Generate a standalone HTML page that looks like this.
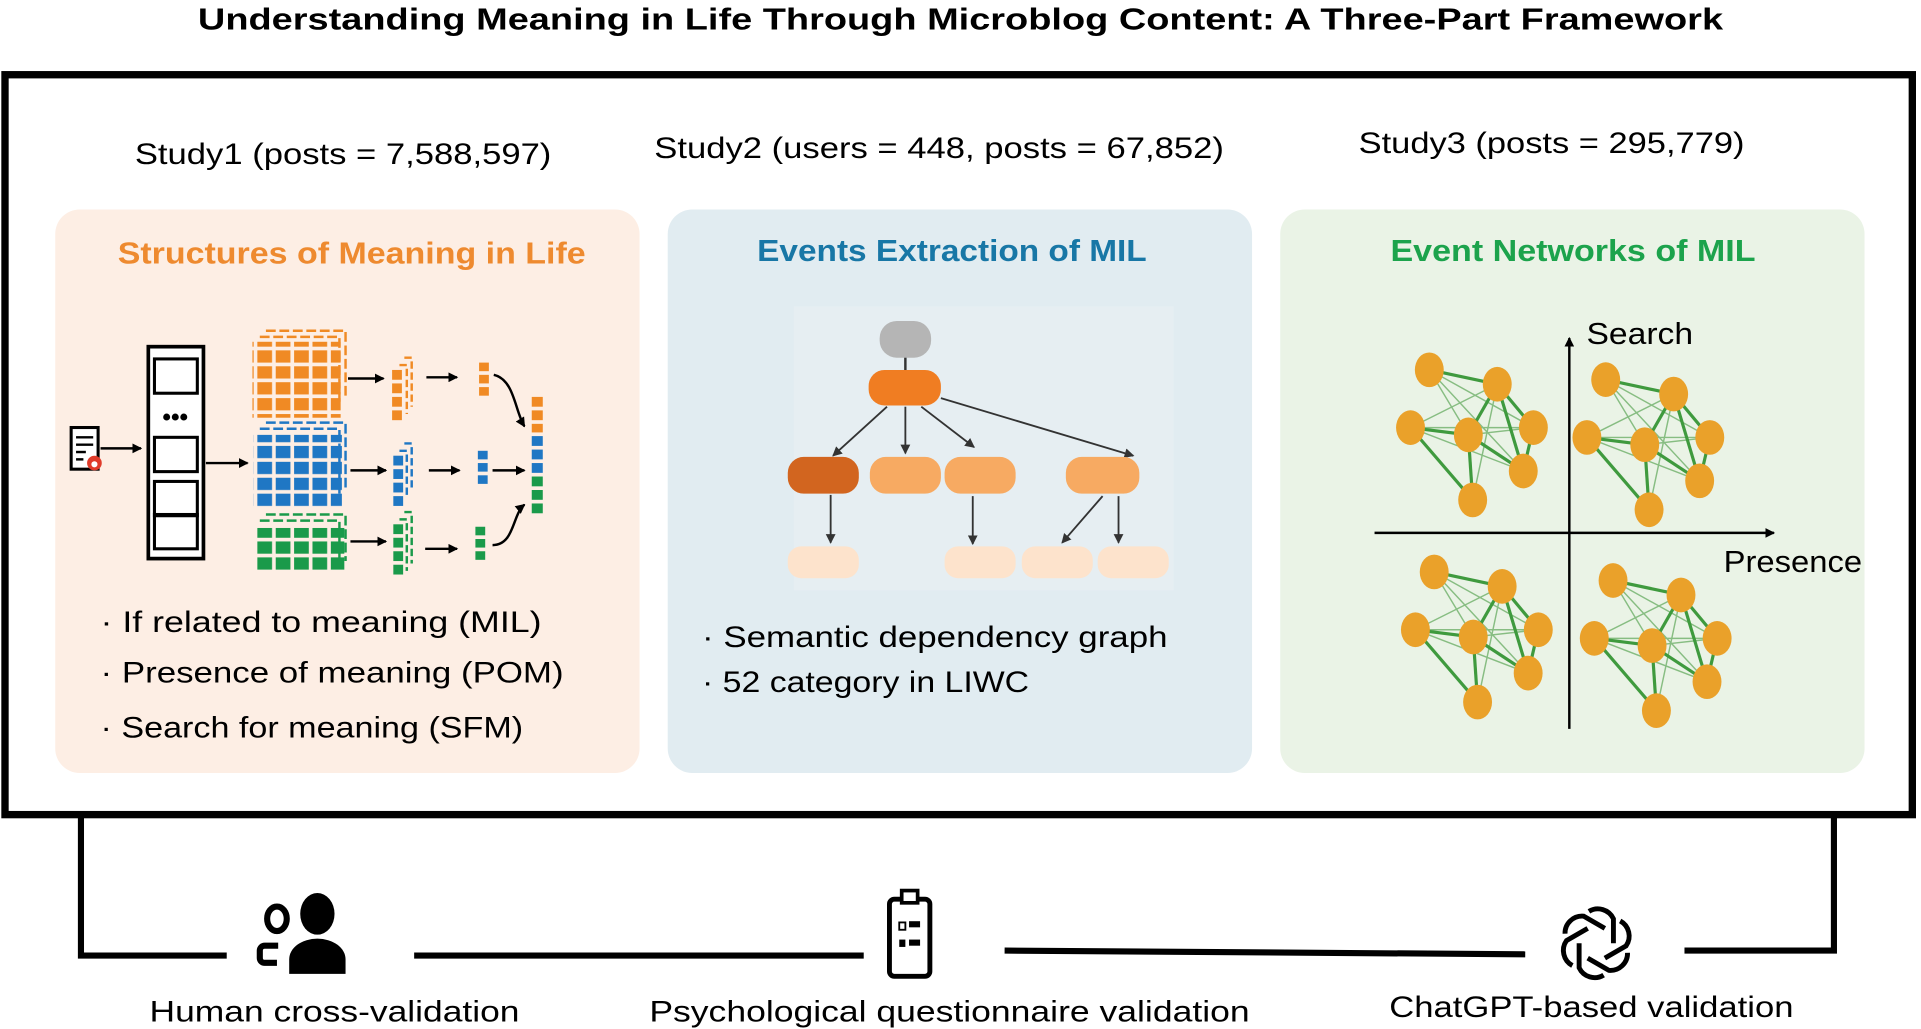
<!DOCTYPE html>
<html><head><meta charset="utf-8"><style>
html,body{margin:0;padding:0;background:#fff;}
svg{display:block;}
text{font-family:"Liberation Sans",sans-serif;}
</style></head><body>
<svg width="1921" height="1029" viewBox="0 0 1568 840" xmlns="http://www.w3.org/2000/svg">
<defs>
<marker id="a" markerWidth="8" markerHeight="8" refX="7" refY="4" orient="auto" markerUnits="userSpaceOnUse"><path d="M0,0 L8,4 L0,8z" fill="#000"/></marker>
<marker id="g" markerWidth="8" markerHeight="8" refX="7" refY="4" orient="auto" markerUnits="userSpaceOnUse"><path d="M0,0 L8,4 L0,8z" fill="#333"/></marker>
<pattern id="og" width="15" height="13" patternUnits="userSpaceOnUse"><rect width="12" height="10" fill="#f08a24"/></pattern>
<pattern id="bg" width="15" height="13" patternUnits="userSpaceOnUse"><rect width="12" height="10" fill="#1f77c4"/></pattern>
<pattern id="gg" width="15" height="13" patternUnits="userSpaceOnUse"><rect width="12" height="10" fill="#1a9a4a"/></pattern>
<g id="net0">
<g stroke="#6fb06a" stroke-width="1" opacity="0.8">
<line x1="-35" y1="-45" x2="12" y2="-35"/><line x1="-35" y1="-45" x2="-8" y2="0"/><line x1="-35" y1="-45" x2="37" y2="-5"/><line x1="-35" y1="-45" x2="30" y2="25"/>
<line x1="-48" y1="-5" x2="12" y2="-35"/><line x1="-48" y1="-5" x2="37" y2="-5"/><line x1="-8" y1="0" x2="37" y2="-5"/><line x1="-8" y1="0" x2="-5" y2="45"/>
<line x1="-48" y1="-5" x2="30" y2="25"/><line x1="12" y1="-35" x2="-5" y2="45"/>
</g>
<g stroke="#3f9a3e" stroke-width="2.2">
<line x1="-35" y1="-45" x2="12" y2="-35"/><line x1="12" y1="-35" x2="-8" y2="0"/><line x1="12" y1="-35" x2="37" y2="-5"/><line x1="12" y1="-35" x2="30" y2="25"/>
<line x1="-48" y1="-5" x2="-8" y2="0"/><line x1="-48" y1="-5" x2="-5" y2="45"/><line x1="-8" y1="0" x2="30" y2="25"/><line x1="-8" y1="0" x2="-5" y2="45"/><line x1="37" y1="-5" x2="30" y2="25"/>
</g>
<g fill="#eaa12a">
<ellipse cx="-35" cy="-45" rx="10" ry="12"/><ellipse cx="12" cy="-35" rx="10" ry="12"/><ellipse cx="-48" cy="-5" rx="10" ry="12"/><ellipse cx="-8" cy="0" rx="10" ry="12"/><ellipse cx="37" cy="-5" rx="10" ry="12"/><ellipse cx="30" cy="25" rx="10" ry="12"/><ellipse cx="-5" cy="45" rx="10" ry="12"/>
</g>
</g>
<g id="net"><use href="#net0" transform="scale(1.18)"/></g>
</defs>
<text x="784" y="24" text-anchor="middle" font-size="25" font-weight="bold" textLength="1245" lengthAdjust="spacingAndGlyphs">Understanding Meaning in Life Through Microblog Content: A Three-Part Framework</text>
<rect x="4" y="61" width="1557" height="604" fill="none" stroke="#000" stroke-width="6"/>
<text x="110" y="134" font-size="24" textLength="340" lengthAdjust="spacingAndGlyphs">Study1  (posts = 7,588,597)</text>
<text x="534" y="129" font-size="24" textLength="465" lengthAdjust="spacingAndGlyphs">Study2  (users = 448,  posts  = 67,852)</text>
<text x="1109" y="125" font-size="24" textLength="315" lengthAdjust="spacingAndGlyphs">Study3  (posts = 295,779)</text>

<rect x="45" y="171" width="477" height="460" rx="20" fill="#fdeee4"/>
<rect x="545" y="171" width="477" height="460" rx="20" fill="#e1ecf1"/>
<rect x="1045" y="171" width="477" height="460" rx="20" fill="#eaf3e6"/>
<text x="287" y="215" text-anchor="middle" font-size="25" font-weight="bold" fill="#ee8a2f" textLength="382" lengthAdjust="spacingAndGlyphs">Structures of Meaning in Life</text>
<text x="777" y="213" text-anchor="middle" font-size="25" font-weight="bold" fill="#1877a6" textLength="318" lengthAdjust="spacingAndGlyphs">Events Extraction of MIL</text>
<text x="1284" y="213" text-anchor="middle" font-size="25" font-weight="bold" fill="#1ca34c" textLength="298" lengthAdjust="spacingAndGlyphs">Event Networks of MIL</text>

<!-- panel 1 -->
<rect x="58" y="349" width="22" height="34" fill="#fff" stroke="#000" stroke-width="2.5"/>
<g stroke="#000" stroke-width="2"><line x1="62" y1="357" x2="76" y2="357"/><line x1="62" y1="363" x2="76" y2="363"/><line x1="62" y1="369" x2="70" y2="369"/><line x1="62" y1="375" x2="68" y2="375"/></g>
<circle cx="77" cy="378" r="6" fill="#e03b2a"/><circle cx="77" cy="379" r="2.5" fill="#fff"/>
<line x1="82" y1="366" x2="115" y2="366" stroke="#000" stroke-width="2" marker-end="url(#a)"/>
<rect x="121" y="283" width="45" height="173" fill="#fff" stroke="#000" stroke-width="3"/>
<rect x="126" y="293" width="35" height="28" fill="none" stroke="#000" stroke-width="2.5"/>
<text x="143" y="347" text-anchor="middle" font-size="20" font-weight="bold">•••</text>
<rect x="126" y="357" width="35" height="28" fill="none" stroke="#000" stroke-width="2.5"/>
<rect x="126" y="393" width="35" height="28" fill="none" stroke="#000" stroke-width="2.5"/>
<rect x="126" y="420" width="35" height="28" fill="none" stroke="#000" stroke-width="2.5"/>
<line x1="168" y1="378" x2="202" y2="378" stroke="#000" stroke-width="2" marker-end="url(#a)"/>
<g stroke-dasharray="8,3" stroke-width="2" fill="none">
<path d="M217,270 H282 V325" stroke="#f08a24"/><path d="M212,275 H277 V330" stroke="#f08a24"/>
<path d="M217,345 H282 V400" stroke="#1f77c4"/><path d="M212,350 H277 V405" stroke="#1f77c4"/>
<path d="M217,420 H282 V458" stroke="#1a9a4a"/><path d="M212,425 H277 V463" stroke="#1a9a4a"/>
</g>
<rect x="206" y="279" width="72" height="62" fill="url(#og)"/>
<rect x="207" y="355" width="72" height="60" fill="url(#bg)"/>
<rect x="209" y="431" width="72" height="36" fill="url(#gg)"/>
<g stroke="#000" stroke-width="2" marker-end="url(#a)">
<line x1="284" y1="309" x2="313" y2="309"/><line x1="286" y1="384" x2="315" y2="384"/><line x1="286" y1="442" x2="315" y2="442"/>
<line x1="348" y1="308" x2="373" y2="308"/><line x1="350" y1="384" x2="375" y2="384"/><line x1="347" y1="448" x2="373" y2="448"/>
<line x1="402" y1="384" x2="428" y2="384"/>
</g>
<path d="M403,306 C420,310 420,335 428,348" stroke="#000" stroke-width="2" fill="none" marker-end="url(#a)"/>
<path d="M402,445 C420,445 418,420 428,412" stroke="#000" stroke-width="2" fill="none" marker-end="url(#a)"/>
<g stroke-dasharray="6,3" stroke-width="2" fill="none">
<path d="M330,292 H336 V332" stroke="#f08a24"/><path d="M326,298 H332 V338" stroke="#f08a24"/>
<path d="M330,362 H336 V400" stroke="#1f77c4"/><path d="M326,368 H332 V406" stroke="#1f77c4"/>
<path d="M330,418 H336 V460" stroke="#1a9a4a"/><path d="M326,424 H332 V466" stroke="#1a9a4a"/>
</g>
<g fill="#f08a24"><rect x="320" y="302" width="8" height="8"/><rect x="320" y="313" width="8" height="8"/><rect x="320" y="324" width="8" height="8"/><rect x="320" y="335" width="8" height="8"/></g>
<g fill="#1f77c4"><rect x="321" y="372" width="8" height="8"/><rect x="321" y="383" width="8" height="8"/><rect x="321" y="394" width="8" height="8"/><rect x="321" y="405" width="8" height="8"/></g>
<g fill="#1a9a4a"><rect x="321" y="428" width="8" height="8"/><rect x="321" y="439" width="8" height="8"/><rect x="321" y="450" width="8" height="8"/><rect x="321" y="461" width="8" height="8"/></g>
<g fill="#f08a24"><rect x="391" y="296" width="8" height="7"/><rect x="391" y="306" width="8" height="7"/><rect x="391" y="316" width="8" height="7"/></g>
<g fill="#1f77c4"><rect x="390" y="368" width="8" height="7"/><rect x="390" y="378" width="8" height="7"/><rect x="390" y="388" width="8" height="7"/></g>
<g fill="#1a9a4a"><rect x="388" y="430" width="8" height="7"/><rect x="388" y="440" width="8" height="7"/><rect x="388" y="450" width="8" height="7"/></g>
<g><rect x="434" y="324" width="9" height="8" fill="#f08a24"/><rect x="434" y="335" width="9" height="8" fill="#f08a24"/><rect x="434" y="346" width="9" height="7" fill="#f08a24"/>
<rect x="434" y="356" width="9" height="8" fill="#1f77c4"/><rect x="434" y="367" width="9" height="8" fill="#1f77c4"/><rect x="434" y="378" width="9" height="8" fill="#1f77c4"/>
<rect x="434" y="389" width="9" height="8" fill="#1a9a4a"/><rect x="434" y="400" width="9" height="8" fill="#1a9a4a"/><rect x="434" y="411" width="9" height="8" fill="#1a9a4a"/></g>
<g font-size="24"><text x="82" y="516" textLength="360" lengthAdjust="spacingAndGlyphs">· If related to meaning (MIL)</text>
<text x="82" y="557" textLength="378" lengthAdjust="spacingAndGlyphs">· Presence of meaning (POM)</text>
<text x="82" y="602" textLength="345" lengthAdjust="spacingAndGlyphs">· Search for meaning (SFM)</text></g>

<!-- panel 2 -->
<rect x="648" y="250" width="310" height="232" fill="#e6eef2"/>
<line x1="739" y1="290" x2="739" y2="305" stroke="#333" stroke-width="2"/>
<rect x="718" y="262" width="42" height="30" rx="14" fill="#b5b5b5"/>
<rect x="709" y="302" width="59" height="29" rx="13" fill="#f07d22"/>
<g stroke="#333" stroke-width="1.5" marker-end="url(#g)">
<line x1="724" y1="332" x2="680" y2="372"/><line x1="739" y1="332" x2="739" y2="370"/><line x1="752" y1="332" x2="795" y2="365"/><line x1="768" y1="325" x2="925" y2="372"/>
<line x1="794" y1="405" x2="794" y2="444"/><line x1="678" y1="404" x2="678" y2="443"/><line x1="900" y1="405" x2="867" y2="443"/><line x1="913" y1="405" x2="913" y2="443"/>
</g>
<rect x="643" y="373" width="58" height="30" rx="13" fill="#d2651f"/>
<rect x="710" y="373" width="58" height="30" rx="13" fill="#f7aa62"/>
<rect x="771" y="373" width="58" height="30" rx="13" fill="#f7aa62"/>
<rect x="870" y="373" width="60" height="30" rx="13" fill="#f7aa62"/>
<g fill="#fde3cc"><rect x="643" y="446" width="58" height="26" rx="11"/><rect x="771" y="446" width="58" height="26" rx="11"/><rect x="834" y="446" width="58" height="26" rx="11"/><rect x="896" y="446" width="58" height="26" rx="11"/></g>
<g font-size="24"><text x="573" y="528" textLength="380" lengthAdjust="spacingAndGlyphs">· Semantic dependency  graph</text>
<text x="573" y="565" textLength="267" lengthAdjust="spacingAndGlyphs">· 52 category in LIWC</text></g>

<!-- panel 3 -->
<use href="#net" x="1208" y="355"/>
<use href="#net" x="1352" y="363"/>
<use href="#net" x="1212" y="520"/>
<use href="#net" x="1358" y="527"/>
<line x1="1281" y1="595" x2="1281" y2="276" stroke="#000" stroke-width="2" marker-end="url(#a)"/>
<line x1="1122" y1="435" x2="1448" y2="435" stroke="#000" stroke-width="2" marker-end="url(#a)"/>
<text x="1295" y="281" font-size="25" textLength="87" lengthAdjust="spacingAndGlyphs">Search</text>
<text x="1407" y="467" font-size="25" textLength="113" lengthAdjust="spacingAndGlyphs">Presence</text>

<!-- bottom -->
<g stroke="#000" stroke-width="5" fill="none">
<polyline points="66,665 66,780 185,780"/>
<line x1="338" y1="780" x2="705" y2="780"/>
<line x1="820" y1="776" x2="1245" y2="779"/>
<polyline points="1375,776 1497,776 1497,665"/>
</g>
<ellipse cx="226" cy="750" rx="8" ry="10" fill="none" stroke="#000" stroke-width="5"/>
<path d="M227,772 h-11 a4,4 0 0 0 -4,4 v6 a4,4 0 0 0 4,4 h10" fill="none" stroke="#000" stroke-width="5"/>
<ellipse cx="259" cy="746" rx="14" ry="17" fill="#000"/>
<path d="M236,795 v-12 a22,16 0 0 1 46,0 v12 z" fill="#000"/>
<rect x="726" y="734" width="33" height="63" rx="4" fill="none" stroke="#000" stroke-width="4"/>
<rect x="736" y="727" width="13" height="10" fill="#fff" stroke="#000" stroke-width="3"/>
<rect x="734" y="753" width="5" height="6" fill="none" stroke="#000" stroke-width="1.5"/>
<rect x="742" y="752" width="9" height="5" fill="#000"/>
<rect x="734" y="767" width="5" height="6" fill="#000"/>
<rect x="742" y="767" width="9" height="5" fill="#000"/>
<g transform="translate(1303,770)" fill="none" stroke="#000" stroke-width="4">
<g id="pet"><path d="M-6,-26 a14,14 0 0 1 20,6 v20"/></g>
<use href="#pet" transform="rotate(60)"/><use href="#pet" transform="rotate(120)"/><use href="#pet" transform="rotate(180)"/><use href="#pet" transform="rotate(240)"/><use href="#pet" transform="rotate(300)"/>
</g>
<g font-size="24"><text x="122" y="834" textLength="302" lengthAdjust="spacingAndGlyphs">Human cross-validation</text>
<text x="530" y="834" textLength="490" lengthAdjust="spacingAndGlyphs">Psychological questionnaire validation</text>
<text x="1134" y="830" textLength="330" lengthAdjust="spacingAndGlyphs">ChatGPT-based validation</text></g>
</svg>
</body></html>
